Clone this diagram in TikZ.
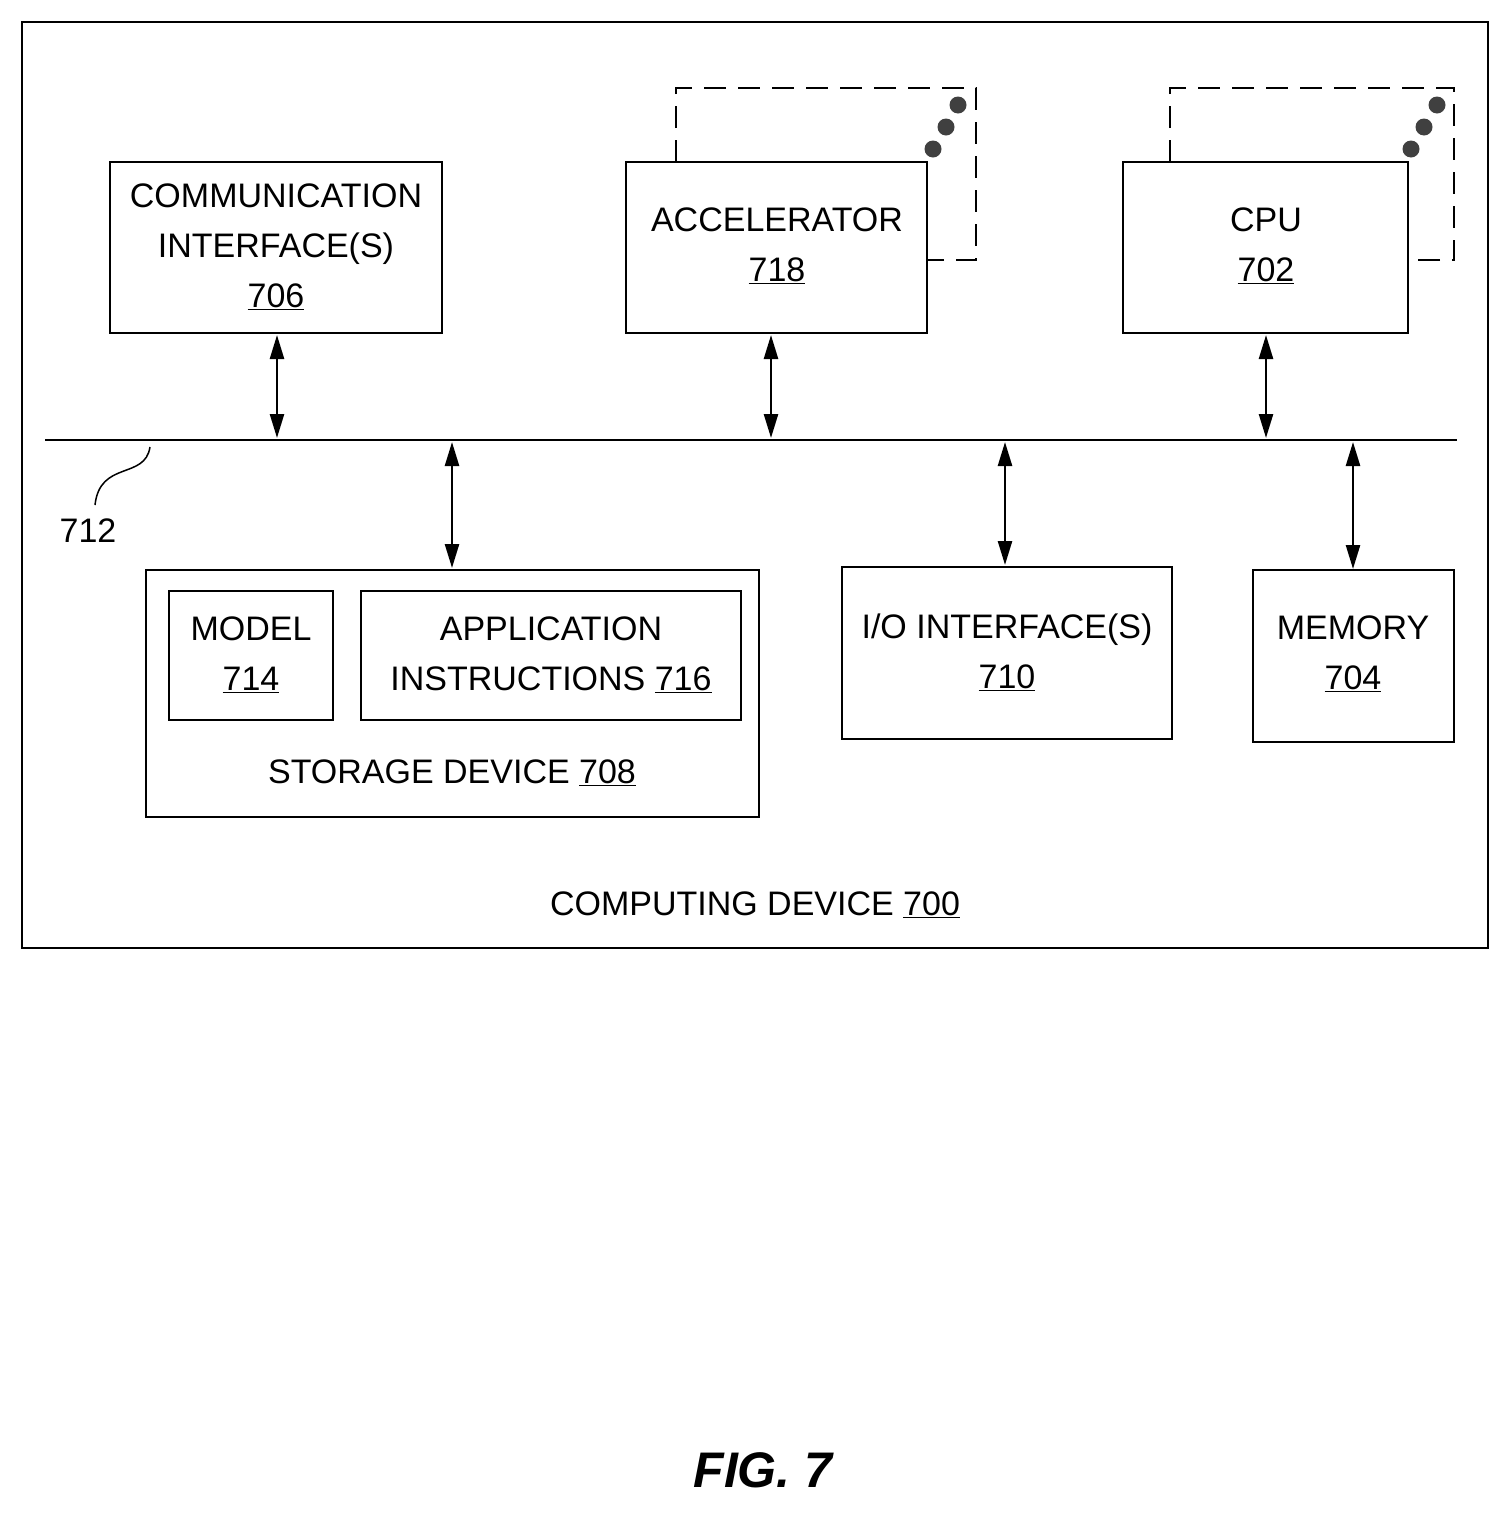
\documentclass[tikz,border=0pt]{standalone}
\usepackage{fontspec}
\setmainfont{Liberation Sans}
\usetikzlibrary{arrows.meta}
\begin{document}
\begin{tikzpicture}[x=1pt,y=-1pt,
  box/.style={draw,line width=2.5pt},
  dbox/.style={draw,line width=2.5pt,dash pattern=on 22pt off 12pt},
  lab/.style={font=\fontsize{34}{50}\selectfont,align=center,inner sep=0},
  arr/.style={line width=2.5pt,{Triangle[length=24pt,width=14pt]}-{Triangle[length=24pt,width=14pt]}},
  dot/.style={fill=black!75,circle,minimum size=17pt,inner sep=0}]
\useasboundingbox (0,0) rectangle (1511,1513);
\draw[box] (22,22) rectangle (1488,948);
% comm
\draw[box] (110,162) rectangle (442,333);
\node[lab] (comm) at (276,247) {COMMUNICATION\\INTERFACE(S)\\\underline{706}};
\coordinate (commB) at (277,335);
% accelerator
\draw[dbox] (676,162) -- (676,88) -- (976,88) -- (976,260) -- (927,260);
\draw[box,fill=white] (626,162) rectangle (927,333);
\node[lab] (acc) at (777,246) {ACCELERATOR\\\underline{718}};
\node[dot] (a1) at (958,105) {};\node[dot] (a2) at (946,127) {};\node[dot] (a3) at (933,149) {};
% cpu
\draw[dbox] (1170,162) -- (1170,88) -- (1454,88) -- (1454,260) -- (1408,260);
\draw[box,fill=white] (1123,162) rectangle (1408,333);
\node[lab] (cpu) at (1266,246) {CPU\\\underline{702}};
\node[dot] (c1) at (1437,105) {};\node[dot] (c2) at (1424,127) {};\node[dot] (c3) at (1411,149) {};
% bus
\coordinate (busL) at (45,440); \coordinate (busR) at (1457,440);
\draw[line width=2.5pt] (busL) -- (busR);
\coordinate (b1) at (277,438);\coordinate (b2) at (771,438);\coordinate (b3) at (1266,438);
\coordinate (b4) at (452,442);\coordinate (b5) at (1005,442);\coordinate (b6) at (1353,442);
\coordinate (accB) at (771,335);\coordinate (cpuB) at (1266,335);
\coordinate (stT) at (452,568);\coordinate (ioT) at (1005,565);\coordinate (memT) at (1353,569);
\draw[arr] (commB) -- (b1);
\draw[arr] (accB) -- (b2);
\draw[arr] (cpuB) -- (b3);
\draw[arr] (b4) -- (stT);
\draw[arr] (b5) -- (ioT);
\draw[arr] (b6) -- (memT);
% 712
\coordinate (sq) at (150,447);
\node[lab] (l712) at (88,531) {712};
\draw[line width=1.5pt] (sq) .. controls (145,480) and (100,460) .. (95,505);
% storage
\draw[box] (146,570) rectangle (759,817);
\draw[box] (169,591) rectangle (333,720);
\draw[box] (361,591) rectangle (741,720);
\node[lab] (model) at (251,655) {MODEL\\\underline{714}};
\node[lab] (app) at (551,655) {APPLICATION\\INSTRUCTIONS \underline{716}};
\node[lab] (st) at (452,773) {STORAGE DEVICE \underline{708}};
% io
\draw[box] (842,567) rectangle (1172,739);
\node[lab] (io) at (1007,652) {I/O INTERFACE(S)\\\underline{710}};
% memory
\draw[box] (1253,570) rectangle (1454,742);
\node[lab] (mem) at (1353,654) {MEMORY\\\underline{704}};
\node[lab] (cd) at (755,905) {COMPUTING DEVICE \underline{700}};
\node[lab,font=\fontsize{50}{60}\selectfont\bfseries\itshape] (fig) at (763,1470) {FIG. 7};
\end{tikzpicture}
\end{document}
